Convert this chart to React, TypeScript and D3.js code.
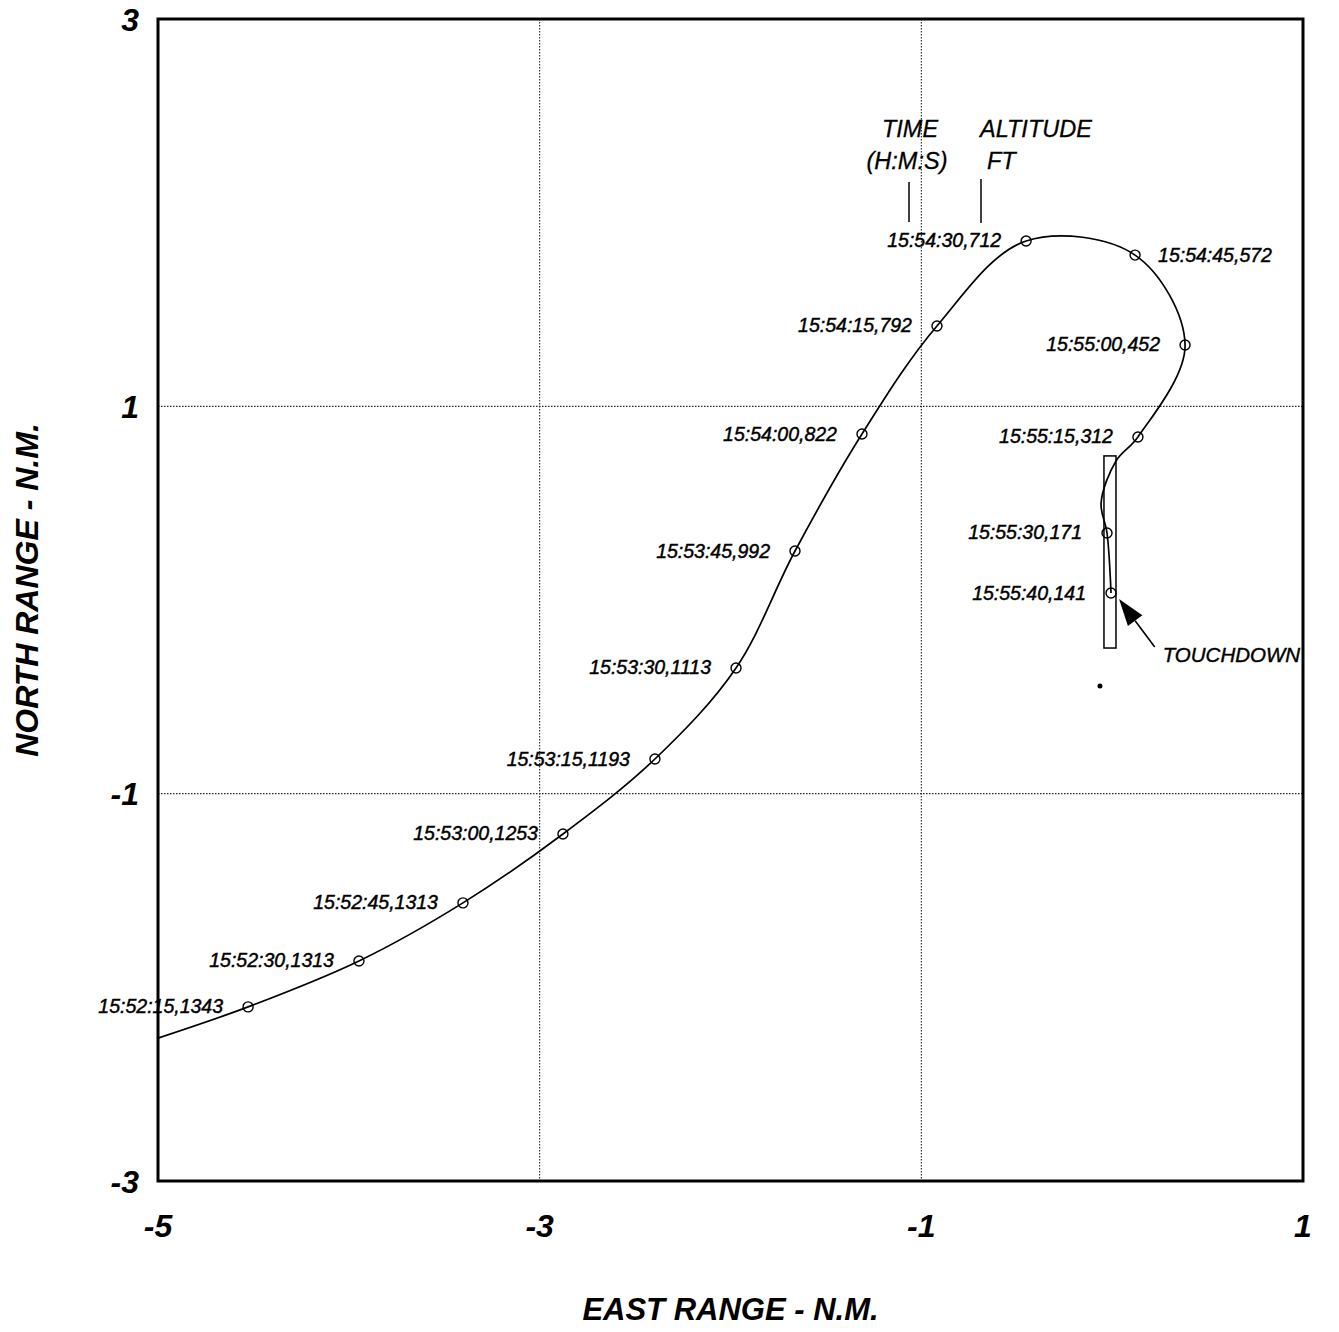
import React from "react";
import * as d3 from "d3";

// Labeled radar fixes: time (H:M:S), altitude (ft), east / north range (n.m.)
const fixTimes = [
  "15:52:15", "15:52:30", "15:52:45", "15:53:00", "15:53:15", "15:53:30", "15:53:45",
  "15:54:00", "15:54:15", "15:54:30", "15:54:45", "15:55:00", "15:55:15", "15:55:30", "15:55:40",
];
const fixAltitudes = [1343, 1313, 1313, 1253, 1193, 1113, 992, 822, 792, 712, 572, 452, 312, 171, 141];
const fixEast = [-4.528, -3.947, -3.402, -2.878, -2.396, -1.971, -1.662, -1.311, -0.918, -0.451, 0.12, 0.382, 0.135, -0.027, -0.006];
const fixNorth = [-2.101, -1.864, -1.564, -1.208, -0.821, -0.351, 0.253, 0.857, 1.415, 1.854, 1.781, 1.317, 0.842, 0.346, 0.036];
const labelSide = ["L", "L", "L", "L", "L", "L", "L", "L", "L", "L", "R", "L", "L", "L", "L"];

// Ground track (includes the fixes plus unmarked track vertices)
const trackEast = [-5, -4.528, -3.947, -3.402, -2.878, -2.396, -1.971, -1.662, -1.311, -0.918, -0.451, 0.12, 0.382, 0.135, 0.02, -0.058, -0.027, -0.006];
const trackNorth = [-2.262, -2.101, -1.864, -1.564, -1.208, -0.821, -0.351, 0.253, 0.857, 1.415, 1.854, 1.781, 1.317, 0.842, 0.718, 0.501, 0.346, 0.036];

// Runway outline (east min/max, north min/max)
const runwayEast = [-0.043, 0.02];
const runwayNorth = [-0.248, 0.744];
// Touchdown arrow: tip and tail (east, north)
const touchdownTip = [0.036, 0.005];
const touchdownTail = [0.223, -0.243];
const specks = [[-0.064, -0.444]];

const xTicks = [-5, -3, -1, 1];
const yTicks = [3, 1, -1, -3];
const xGrid = [-3, -1];
const yGrid = [1, -1];

const W = 1339;
const H = 1332;
const left = 158, right = 1303, top = 19, bottom = 1181;
const FONT = "'Liberation Sans', Arial, Helvetica, sans-serif";

export default function App() {
  const x = d3.scaleLinear().domain([-5, 1]).range([left, right]);
  const y = d3.scaleLinear().domain([-3, 3]).range([bottom, top]);

  const track = trackEast.map((e, i) => [e, trackNorth[i]] as [number, number]);
  const line = d3
    .line<[number, number]>()
    .x((d) => x(d[0]))
    .y((d) => y(d[1]))
    .curve(d3.curveCatmullRom.alpha(0.5));

  const tip = [x(touchdownTip[0]), y(touchdownTip[1])];
  const tail = [x(touchdownTail[0]), y(touchdownTail[1])];
  const ang = Math.atan2(tail[1] - tip[1], tail[0] - tip[0]);
  const hl = 27, hw = 9;
  const bx = tip[0] + hl * Math.cos(ang), by = tip[1] + hl * Math.sin(ang);
  const p1 = [bx + hw * Math.cos(ang + Math.PI / 2), by + hw * Math.sin(ang + Math.PI / 2)];
  const p2 = [bx - hw * Math.cos(ang + Math.PI / 2), by - hw * Math.sin(ang + Math.PI / 2)];

  return (
    <svg
      width={W}
      height={H}
      style={{ position: "absolute", left: 0, top: 0, background: "#fff" }}
      fontFamily={FONT}
    >
      <rect x={0} y={0} width={W} height={H} fill="#fff" />
      {/* grid */}
      {xGrid.map((g) => (
        <line key={"xg" + g} x1={x(g)} x2={x(g)} y1={top} y2={bottom} stroke="#222" strokeWidth={1.1} strokeDasharray="1.5,1.5" />
      ))}
      {yGrid.map((g) => (
        <line key={"yg" + g} x1={left} x2={right} y1={y(g)} y2={y(g)} stroke="#222" strokeWidth={1.1} strokeDasharray="1.5,1.5" />
      ))}

      {/* runway */}
      <rect
        x={x(runwayEast[0])}
        y={y(runwayNorth[1])}
        width={x(runwayEast[1]) - x(runwayEast[0])}
        height={y(runwayNorth[0]) - y(runwayNorth[1])}
        fill="none"
        stroke="#000"
        strokeWidth={1.5}
      />

      {/* track */}
      <path d={line(track) || ""} fill="none" stroke="#000" strokeWidth={1.7} />

      {/* fixes */}
      {fixEast.map((e, i) => (
        <circle key={"c" + i} cx={x(e)} cy={y(fixNorth[i])} r={5} fill="none" stroke="#000" strokeWidth={1.4} />
      ))}
      {fixEast.map((e, i) => {
        const isR = labelSide[i] === "R";
        return (
          <text
            key={"t" + i}
            x={x(e) + (isR ? 23 : -25)}
            y={y(fixNorth[i]) + 6.5}
            textAnchor={isR ? "start" : "end"}
            fontSize={19.5}
            fontStyle="italic"
            fill="#000"
            stroke="#000"
            strokeWidth={0.45}
          >
            {fixTimes[i]},{fixAltitudes[i]}
          </text>
        );
      })}

      {/* column header annotation */}
      <g fontStyle="italic" fontSize={23.5} fill="#000" stroke="#000" strokeWidth={0.3}>
        <text x={910} y={137} textAnchor="middle">TIME</text>
        <text x={907} y={169} textAnchor="middle">(H:M:S)</text>
        <text x={980} y={137}>ALTITUDE</text>
        <text x={987} y={169}>FT</text>
      </g>
      <line x1={909} x2={909} y1={182} y2={222} stroke="#000" strokeWidth={1.5} />
      <line x1={981} x2={981} y1={179} y2={223} stroke="#000" strokeWidth={1.5} />

      {/* touchdown arrow */}
      <line x1={bx} y1={by} x2={tail[0]} y2={tail[1]} stroke="#000" strokeWidth={1.6} />
      <polygon points={`${tip[0]},${tip[1]} ${p1[0]},${p1[1]} ${p2[0]},${p2[1]}`} fill="#000" />
      <text x={tail[0] + 8} y={662} fontSize={20.5} fontStyle="italic" fill="#000" stroke="#000" strokeWidth={0.4}>TOUCHDOWN</text>
      {specks.map((s, i) => (
        <circle key={"s" + i} cx={x(s[0])} cy={y(s[1])} r={2.5} fill="#000" />
      ))}

      {/* frame */}
      <rect x={left} y={top} width={right - left} height={bottom - top} fill="none" stroke="#000" strokeWidth={3} />

      {/* ticks */}
      {xTicks.map((t) => (
        <text key={"xt" + t} x={x(t)} y={1237} textAnchor="middle" fontSize={32} fontWeight="bold" fontStyle="italic" fill="#000">
          {t}
        </text>
      ))}
      {yTicks.map((t) => (
        <text key={"yt" + t} x={139} y={y(t)} dy="0.36em" textAnchor="end" fontSize={32} fontWeight="bold" fontStyle="italic" fill="#000">
          {t}
        </text>
      ))}

      {/* axis titles */}
      <text x={(left + right) / 2} y={1320} textAnchor="middle" fontSize={31} fontWeight="bold" fontStyle="italic" fill="#000">
        EAST RANGE - N.M.
      </text>
      <text
        transform={`translate(38, ${(top + bottom) / 2 - 10}) rotate(-90)`}
        textAnchor="middle"
        fontSize={32}
        fontWeight="bold"
        fontStyle="italic"
        fill="#000"
      >
        NORTH RANGE - N.M.
      </text>
    </svg>
  );
}
